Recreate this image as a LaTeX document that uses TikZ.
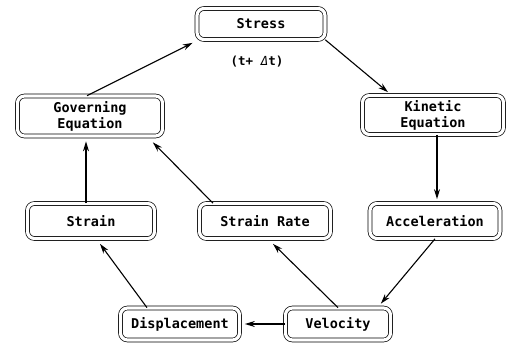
\documentclass[tikz,border=0pt]{standalone}
\usepackage{fontspec}
\setmonofont{DejaVu Sans Mono}
\usetikzlibrary{arrows.meta, positioning}

\tikzset{
  box/.style={draw, double, double distance=3.2pt, line width=0.7pt,
    rounded corners=7pt, align=center, inner sep=2pt,
    font=\ttfamily\bfseries\fontsize{13.5}{16}\selectfont},
  link/.style={-{Stealth[length=10pt,width=6pt]}, line width=1.1pt}
}

\begin{document}
\begin{tikzpicture}[x=1pt, y=-1pt]

        \useasboundingbox (0,0) rectangle (515,345);

        % top of the loop
        \node [box, minimum width=128pt, minimum height=31pt] (stress) at (261,24) {Stress};
        \node [font=\ttfamily\bfseries\fontsize{12.5}{14}\selectfont] (time) at (257,62) {(t+ {\mdseries\itshape Δ}t)};

        \node [box, minimum width=145pt, minimum height=40pt] (gov) at (90,116) {Governing\\Equation};
        \node [box, minimum width=141pt, minimum height=39pt] (kin) at (433,115) {Kinetic\\Equation};

        % middle row
        \foreach \n/\l/\x/\w in {strain/Strain/91/127, rate/Strain Rate/265/131, acc/Acceleration/435/130}
        \node [box, minimum width=\w pt, minimum height=35pt] (\n) at (\x,221) {\l};

        % bottom row
        \node [box, minimum width=119pt, minimum height=32pt] (disp) at (180,324) {Displacement};
        \node [box, minimum width=105pt, minimum height=32pt] (vel) at (338,324) {Velocity};

        \draw [link] ([xshift=-3pt]gov.north) -- ([xshift=-4pt,yshift=-3pt]stress.south west);
        \draw [link] (stress.south east) -- ([xshift=-45pt,yshift=3pt]kin.north);
        \draw [link] ([xshift=4pt]kin.south) -- ([xshift=4pt,yshift=4pt]kin.south |- acc.north);
        \draw [link] (acc.south) -- ([xshift=-10pt,yshift=4pt]vel.north east);
        \draw [link] (vel.north) -- ([xshift=8pt,yshift=-5pt]rate.south);
        \draw [link] ([xshift=-52pt]rate.north) -- ([xshift=-10pt,yshift=-6pt]gov.south east);
        \draw [link] ([xshift=-33pt]disp.north) -- ([xshift=9pt,yshift=-5pt]strain.south);
        \draw [link, shorten >=5pt] ([xshift=-5pt]strain.north) -- ([xshift=-5pt]strain.north |- gov.south);
        \draw [link, shorten >=5pt] (vel.west) -- (disp.east);

      \end{tikzpicture}
\end{document}
